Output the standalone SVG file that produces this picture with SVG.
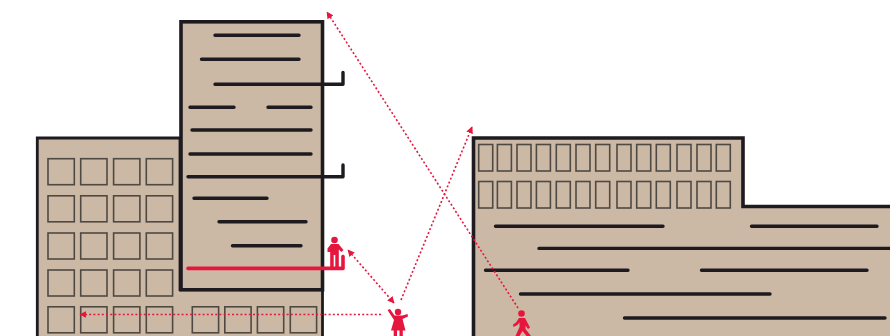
<svg xmlns="http://www.w3.org/2000/svg" width="890" height="336" viewBox="0 0 890 336">
<style>
.b{fill:#ccb9a5;stroke:#1d1b20;stroke-width:3.6;stroke-linejoin:miter}
.bs{fill:#ccb9a5;stroke:#1d1b20;stroke-width:2.8;stroke-linejoin:miter}
.w{fill:none;stroke:#4f4943;stroke-width:1.6}
.l{fill:none;stroke:#1d1b20;stroke-width:3.4;stroke-linecap:round;stroke-linejoin:round}
.r{fill:none;stroke:#e5173f;stroke-width:3.6;stroke-linecap:round;stroke-linejoin:round}
.p{fill:#e5173f}
.a{fill:none;stroke:#e5173f;stroke-width:1.6;stroke-dasharray:2 2.2}
</style>
<defs>
<marker id="h" viewBox="0 0 10 10" refX="9" refY="5" markerWidth="7" markerHeight="7" markerUnits="userSpaceOnUse" orient="auto-start-reverse"><path d="M0 0L10 5L0 10Z" fill="#e5173f"/></marker>
<rect id="s" width="26.300" height="26" class="w"/>
<rect id="t" width="14" height="26.500" class="w"/>
</defs>
<g id="building-left">
<path class="bs" d="M37.300 338V138H180V289.500H322.500V338"/>
<g id="left-windows">
<use href="#s" x="48" y="158.700"/><use href="#s" x="80.700" y="158.700"/><use href="#s" x="113.600" y="158.700"/><use href="#s" x="146.300" y="158.700"/>
<use href="#s" x="48" y="195.800"/><use href="#s" x="80.700" y="195.800"/><use href="#s" x="113.600" y="195.800"/><use href="#s" x="146.300" y="195.800"/>
<use href="#s" x="48" y="233"/><use href="#s" x="80.700" y="233"/><use href="#s" x="113.600" y="233"/><use href="#s" x="146.300" y="233"/>
<use href="#s" x="48" y="270"/><use href="#s" x="80.700" y="270"/><use href="#s" x="113.600" y="270"/><use href="#s" x="146.300" y="270"/>
<use href="#s" x="48" y="306.800"/><use href="#s" x="80.700" y="306.800"/><use href="#s" x="113.600" y="306.800"/><use href="#s" x="146.300" y="306.800"/>
<use href="#s" x="192.300" y="306.800"/><use href="#s" x="224.800" y="306.800"/><use href="#s" x="257.400" y="306.800"/><use href="#s" x="290.300" y="306.800"/>
</g>
</g>
<g id="tower">
<rect class="b" x="181" y="21.800" width="141.500" height="268"/>
<path class="l" d="M215 35.300H299M201.500 59.200H299M215 84.300H343V72.500M190 107.300H234M268 107.300H311M192 130H311M190 154H311M188 176.700H343V165M194 198.200H267M219 221.700H306M232.500 245.700H301"/>
<path class="r" d="M188 268.400H343V256.500"/>
</g>
<g id="building-right">
<path class="b" d="M473.500 338V138H743V206.500H892V338"/>
<g id="right-windows">
<use href="#t" x="478.700" y="144.500"/><use href="#t" x="497.400" y="144.500"/><use href="#t" x="517" y="144.500"/><use href="#t" x="536.400" y="144.500"/><use href="#t" x="556.300" y="144.500"/><use href="#t" x="576" y="144.500"/><use href="#t" x="595.700" y="144.500"/><use href="#t" x="617" y="144.500"/><use href="#t" x="636.700" y="144.500"/><use href="#t" x="656.300" y="144.500"/><use href="#t" x="677" y="144.500"/><use href="#t" x="697" y="144.500"/><use href="#t" x="716.300" y="144.500"/>
<use href="#t" x="478.700" y="181.500"/><use href="#t" x="497.400" y="181.500"/><use href="#t" x="517" y="181.500"/><use href="#t" x="536.400" y="181.500"/><use href="#t" x="556.300" y="181.500"/><use href="#t" x="576" y="181.500"/><use href="#t" x="595.700" y="181.500"/><use href="#t" x="617" y="181.500"/><use href="#t" x="636.700" y="181.500"/><use href="#t" x="656.300" y="181.500"/><use href="#t" x="677" y="181.500"/><use href="#t" x="697" y="181.500"/><use href="#t" x="716.300" y="181.500"/>
</g>
<path class="l" d="M495.500 226.300H663M751.500 226.300H877M539 248.400H892M485.500 270.300H628M701.500 270.300H867M520.500 294H770M624.500 318H885"/>
</g>
<g id="connectors">
<path class="a" d="M518 308L327 12" marker-end="url(#h)"/>
<path class="a" d="M401 300L472 127" marker-end="url(#h)"/>
<path class="a" d="M394 303L348 250" marker-start="url(#h)" marker-end="url(#h)"/>
<path class="a" d="M381 314.500H80" marker-end="url(#h)"/>
</g>
<g id="person-balcony">
<circle class="p" cx="334.500" cy="240" r="3.300"/>
<path class="p" d="M331 244H338.500L343.500 250L341.500 252L338.800 249.500V267H335.300V255H333.700V267H330.200V252H327.500V248.500Z"/>
</g>
<g id="person-woman">
<circle class="p" cx="398" cy="312" r="3.200"/>
<path class="p" d="M387.500 310L390 309L394.500 315.500L402.500 315.500L407.500 314L408 316.500L402.500 319L405.500 330.500H402.800V336H399.500V330.500H397V336H393.700V330.500H391L394 320Z"/>
</g>
<g id="person-walker">
<circle class="p" cx="521.500" cy="313.500" r="3.300"/>
<path class="p" d="M519 318H525L530 327.500L528 329L525.500 325.500L525.500 329L531 336H526.500L522.500 331L519.500 336H515.500L519.500 327V322.500L517.500 325L513.500 327L513 324.500L516 322.500Z"/>
</g>
</svg>
